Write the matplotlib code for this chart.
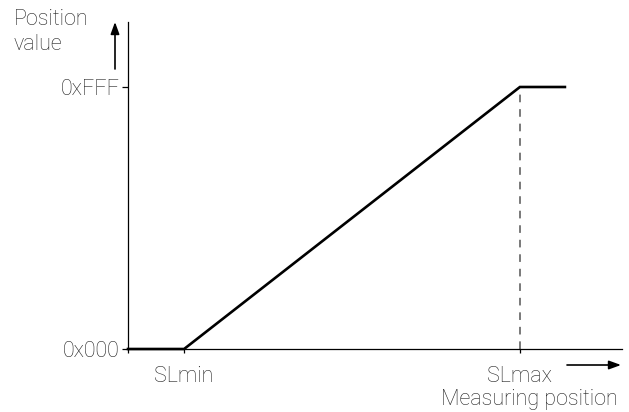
import matplotlib.pyplot as plt

# measuring position, scaled so that SLmin = 0 and SLmax = 1
x_origin = -0.167
sl_min = 0.0
sl_max = 1.0
x_end = 1.134
x_axis_end = 1.304

# position value (12 bit)
y_min = 0x000
y_max = 0xFFF

curve_x = [x_origin, sl_min, sl_max, x_end]
curve_y = [y_min, y_min, y_max, y_max]

x_tick_labels = ['SLmin', 'SLmax']
y_tick_labels = ['0x000', '0xFFF']

plt.rcParams['font.family'] = ['Roboto', 'DejaVu Sans']
plt.rcParams['font.weight'] = 'light'
text_color = '#222222'
fs = 15.5

W, H = 629, 412
fig = plt.figure(figsize=(W / 100, H / 100), dpi=100)
ax = fig.add_axes([128 / W, 63 / H, 494 / W, 327 / H])

ax.plot(curve_x, curve_y, color='black', lw=1.9, clip_on=False,
        solid_joinstyle='miter', zorder=3)
ax.plot([sl_max, sl_max], [y_min, y_max], color='#555555', lw=1.1,
        dashes=(5, 4.5), zorder=2)

ax.set_xlim(x_origin, x_axis_end)
ax.set_ylim(y_min, y_max * 327 / 262)

for side in ['top', 'right']:
    ax.spines[side].set_visible(False)
for side in ['left', 'bottom']:
    ax.spines[side].set_linewidth(0.9)
    ax.spines[side].set_color('black')

ax.set_xticks([x_origin, sl_min, sl_max], [''] + x_tick_labels)
ax.set_yticks([y_min, y_max], y_tick_labels)
ax.tick_params(axis='x', length=3, width=0.9, pad=9, labelsize=fs,
               labelcolor=text_color)
ax.tick_params(axis='y', length=4.5, width=0.9, pad=1.5, labelsize=fs,
               labelcolor=text_color)

arrow = dict(arrowstyle='-|>,head_length=0.55,head_width=0.2',
             mutation_scale=13, lw=1.2, color='black', shrinkA=0, shrinkB=0)
ax.annotate('', xy=(115, H - 22), xytext=(115, H - 69),
            xycoords='figure pixels', textcoords='figure pixels',
            arrowprops=arrow)
ax.annotate('', xy=(621, H - 365), xytext=(567, H - 365),
            xycoords='figure pixels', textcoords='figure pixels',
            arrowprops=arrow)

fig.text(14 / W, 1 - 9 / H, 'Position\nvalue', ha='left', va='top',
         fontsize=fs, color=text_color, linespacing=1.25)
fig.text(618 / W, 1 - 399 / H, 'Measuring position', ha='right',
         va='center', fontsize=fs, color=text_color)

fig.savefig('out.png', dpi=100)
